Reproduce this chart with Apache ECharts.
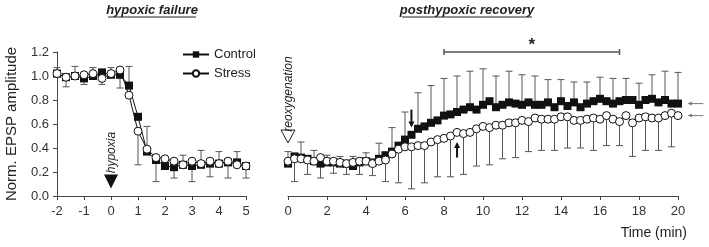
<!DOCTYPE html>
<html lang="en">
<head>
<meta charset="UTF-8">
<title>EPSP amplitude</title>
<script src="https://cdn.jsdelivr.net/npm/echarts@6/dist/echarts.min.js"></script>
<style>html,body{margin:0;padding:0;background:#fff}</style>
</head>
<body>
<div id="main" style="width:709px;height:247px"></div>
<script>
// one sample every 20 s
// hypoxic failure, -2 .. 5 min
var failStart = -2;
var failControl = [1.02, 0.99, 1.00, 0.98, 1.00, 1.03, 1.01, 1.01, 0.92, 0.66, 0.37, 0.30, 0.25, 0.24, 0.26, 0.25, 0.26, 0.27, 0.27, 0.28, 0.28, 0.25];
var failStress  = [1.02, 0.99, 1.00, 1.01, 1.02, 0.98, 1.02, 1.05, 0.84, 0.54, 0.39, 0.32, 0.31, 0.29, 0.26, 0.29, 0.27, 0.29, 0.27, 0.29, 0.26, 0.25];
// error bar ends: control (up) on even samples, stress (down) on odd samples
var failControlTop   = [1.07, 1.08, 1.07, 1.07, 1.08, 0.58, null, 0.34, 0.38, 0.37, 0.37];
var failStressBottom = [0.91, 0.93, 0.93, 0.90, 0.26, 0.12, 0.15, 0.12, 0.16, 0.15, 0.15];

// posthypoxic recovery, 0 .. 20 min
var recStart = 0;
var recControl = [0.27, 0.33, 0.32, 0.31, 0.29, 0.27, 0.28, 0.28, 0.27, 0.27, 0.25, 0.28, 0.29, 0.28, 0.31, 0.34,
  0.37, 0.42, 0.47, 0.51, 0.56, 0.58, 0.61, 0.63, 0.67, 0.68, 0.70, 0.72, 0.74, 0.72, 0.76,
  0.79, 0.74, 0.76, 0.78, 0.77, 0.76, 0.78, 0.76, 0.76, 0.78, 0.74, 0.79, 0.75, 0.78, 0.74,
  0.77, 0.79, 0.81, 0.79, 0.77, 0.79, 0.80, 0.80, 0.76, 0.80, 0.81, 0.78, 0.80, 0.77, 0.77];
var recStress = [0.29, 0.31, 0.31, 0.30, 0.29, 0.32, 0.29, 0.29, 0.28, 0.27, 0.28, 0.29, 0.29, 0.27, 0.29, 0.30,
  0.35, 0.39, 0.41, 0.41, 0.42, 0.42, 0.45, 0.47, 0.48, 0.50, 0.53, 0.52, 0.53, 0.56, 0.58,
  0.57, 0.59, 0.59, 0.61, 0.61, 0.63, 0.62, 0.65, 0.64, 0.64, 0.64, 0.66, 0.66, 0.63, 0.63,
  0.64, 0.65, 0.64, 0.67, 0.64, 0.62, 0.67, 0.61, 0.65, 0.66, 0.65, 0.65, 0.67, 0.69, 0.67];
var recControlTop = [0.37, 0.45, 0.38, 0.34, 0.33, 0.33, 0.36, 0.44, 0.57, 0.70, 0.86, 0.92, 0.98, 1.00, 1.04, 1.06,
  1.00, 1.04, 1.01, 1.00, 0.97, 0.97, 0.95, 0.95, 0.99, 0.98, 0.98, 0.94, 1.01, 1.04, 1.03];
var recStressBottom = [0.12, 0.18, 0.15, 0.19, 0.18, 0.18, 0.17, 0.12, 0.11, 0.06, 0.11, 0.16, 0.16, 0.18, 0.25,
  0.26, 0.31, 0.32, 0.37, 0.38, 0.38, 0.40, 0.40, 0.38, 0.42, 0.42, 0.33, 0.38, 0.38, 0.41];

var failTicks = [-2, -1, 0, 1, 2, 3, 4, 5];
var recTicks = [0, 2, 4, 6, 8, 10, 12, 14, 16, 18, 20];
var sigRange = [8, 17];

var chart = echarts.init(document.getElementById('main'));

function times(start, n) {
  var t = [];
  for (var i = 0; i < n; i++) t.push(start + i / 3);
  return t;
}
function pairs(t, v) {
  return v.map(function (y, i) { return [t[i], y]; });
}
function errData(t, v, ends, offset) {
  var out = [];
  ends.forEach(function (e, k) {
    var i = 2 * k + offset;
    if (e != null && i < v.length) out.push([t[i], v[i], e]);
  });
  return out;
}

function errSeries(gi, data) {
  return {
    type: 'custom', xAxisIndex: gi, yAxisIndex: gi, z: 1, silent: true,
    encode: { x: 0, y: [1, 2] },
    data: data,
    renderItem: function (params, api) {
      var a = api.coord([api.value(0), api.value(1)]);
      var b = api.coord([api.value(0), api.value(2)]);
      var st = { stroke: '#555', lineWidth: 1 };
      return {
        type: 'group', children: [
          { type: 'line', shape: { x1: a[0], y1: a[1], x2: b[0], y2: b[1] }, style: st },
          { type: 'line', shape: { x1: b[0] - 3.5, y1: b[1], x2: b[0] + 3.5, y2: b[1] }, style: st }
        ]
      };
    }
  };
}
function ctrlSeries(gi, data) {
  return {
    name: 'Control', type: 'line', xAxisIndex: gi, yAxisIndex: gi, data: data, z: 3,
    symbol: 'rect', symbolSize: 8, animation: false,
    lineStyle: { color: '#111', width: 1 }, itemStyle: { color: '#111' }
  };
}
function stressSeries(gi, data) {
  return {
    name: 'Stress', type: 'line', xAxisIndex: gi, yAxisIndex: gi, data: data, z: 4,
    symbol: 'circle', symbolSize: 8, animation: false,
    lineStyle: { color: '#111', width: 1 },
    itemStyle: { color: '#fff', borderColor: '#111', borderWidth: 1 }
  };
}

var tf = times(failStart, failControl.length);
var tr = times(recStart, recControl.length);
var font = 'Liberation Sans, Arial, sans-serif';

function xAxis(gi, ticks) {
  return {
    type: 'value', gridIndex: gi, min: ticks[0], max: ticks[ticks.length - 1],
    interval: ticks[1] - ticks[0],
    axisLine: { onZero: false, lineStyle: { color: '#444' } },
    axisTick: { length: 4, lineStyle: { color: '#444' } },
    axisLabel: { color: '#333', fontSize: 13, fontFamily: font, margin: 9 },
    splitLine: { show: false }
  };
}

chart.setOption({
  animation: false,
  textStyle: { fontFamily: font },
  grid: [
    { left: 57, top: 52, width: 189, height: 144 },
    { left: 288, top: 52, width: 390, height: 144 }
  ],
  legend: {
    data: ['Control', 'Stress'], orient: 'vertical', left: 177, top: 43,
    itemWidth: 26, itemHeight: 8, itemGap: 6,
    textStyle: { fontSize: 13, color: '#222', fontFamily: font }
  },
  xAxis: [xAxis(0, failTicks), xAxis(1, recTicks)],
  yAxis: [
    {
      type: 'value', gridIndex: 0, min: 0, max: 1.2, interval: 0.2,
      name: 'Norm. EPSP amplitude', nameLocation: 'middle', nameGap: 38,
      nameTextStyle: { fontSize: 15, color: '#222', fontFamily: font },
      axisLine: { show: true, onZero: false, lineStyle: { color: '#444' } },
      axisTick: { show: true, length: 4, lineStyle: { color: '#444' } },
      axisLabel: { color: '#333', fontSize: 13, fontFamily: font, margin: 8,
        formatter: function (v) { return v.toFixed(1); } },
      splitLine: { show: false }
    },
    { type: 'value', gridIndex: 1, min: 0, max: 1.2, show: false }
  ],
  series: [
    errSeries(0, errData(tf, failControl, failControlTop, 0)),
    errSeries(0, errData(tf, failStress, failStressBottom, 1)),
    ctrlSeries(0, pairs(tf, failControl)),
    stressSeries(0, pairs(tf, failStress)),
    errSeries(1, errData(tr, recControl, recControlTop, 0)),
    errSeries(1, errData(tr, recStress, recStressBottom, 1)),
    ctrlSeries(1, pairs(tr, recControl)),
    stressSeries(1, pairs(tr, recStress))
  ]
});

// annotations
function px(gi, x, y) { return chart.convertToPixel({ gridIndex: gi }, [x, y]); }
function arrow(p0, p1, color, w, head) {
  var dy = p1[1] > p0[1] ? 1 : (p1[1] < p0[1] ? -1 : 0);
  var dx = dy === 0 ? (p1[0] > p0[0] ? 1 : -1) : 0;
  var pts, end;
  if (dy !== 0) {
    pts = [[p1[0] - head / 2, p1[1] - dy * head], [p1[0] + head / 2, p1[1] - dy * head], [p1[0], p1[1]]];
    end = [p1[0], p1[1] - dy * head * 0.8];
  } else {
    pts = [[p1[0] - dx * head, p1[1] - head / 2], [p1[0] - dx * head, p1[1] + head / 2], [p1[0], p1[1]]];
    end = [p1[0] - dx * head * 0.8, p1[1]];
  }
  return [
    { type: 'line', shape: { x1: p0[0], y1: p0[1], x2: end[0], y2: end[1] }, style: { stroke: color, lineWidth: w } },
    { type: 'polygon', shape: { points: pts }, style: { fill: color } }
  ];
}
function label(text, x, y, f, rot) {
  return { type: 'text', x: x, y: y, rotation: rot || 0,
    style: { text: text, font: f, fill: '#222', textAlign: 'center', textVerticalAlign: 'middle' } };
}

var g = [];
g.push(label('hypoxic failure', 152, 10, 'italic bold 13px ' + font));
g.push({ type: 'line', shape: { x1: 108, y1: 17, x2: 196, y2: 17 }, style: { stroke: '#222', lineWidth: 1 } });
g.push(label('posthypoxic recovery', 467, 10, 'italic bold 13px ' + font));
g.push({ type: 'line', shape: { x1: 402, y1: 17, x2: 532, y2: 17 }, style: { stroke: '#222', lineWidth: 1 } });

// hypoxia onset
var h = px(0, 0, 0.12);
g.push({ type: 'polygon', shape: { points: [[h[0] - 7, h[1] - 7], [h[0] + 7, h[1] - 7], [h[0], h[1] + 7]] },
  style: { fill: '#111' } });
g.push(label('hypoxia', h[0] + 1, h[1] - 29, 'italic 12px ' + font, Math.PI / 2));

// reoxygenation
var r = px(1, 0, 0.5);
g.push({ type: 'polygon', shape: { points: [[r[0] - 7, r[1] - 6], [r[0] + 7, r[1] - 6], [r[0], r[1] + 7]] },
  style: { fill: '#fff', stroke: '#222', lineWidth: 1 } });
g.push(label('reoxygenation', r[0] + 1, r[1] - 42, 'italic 12px ' + font, Math.PI / 2));

// half-recovery arrows
g = g.concat(arrow(px(1, 6.33, 0.72), px(1, 6.33, 0.57), '#111', 2, 6));
g = g.concat(arrow(px(1, 8.67, 0.32), px(1, 8.67, 0.45), '#111', 2, 6));

// significance bracket
var s0 = px(1, sigRange[0], 1.2), s1 = px(1, sigRange[1], 1.2);
var bs = { stroke: '#555', lineWidth: 1.5 };
g.push({ type: 'line', shape: { x1: s0[0], y1: s0[1], x2: s1[0], y2: s1[1] }, style: bs });
g.push({ type: 'line', shape: { x1: s0[0], y1: s0[1] - 3, x2: s0[0], y2: s0[1] + 3 }, style: bs });
g.push({ type: 'line', shape: { x1: s1[0], y1: s1[1] - 3, x2: s1[0], y2: s1[1] + 3 }, style: bs });
g.push(label('*', (s0[0] + s1[0]) / 2, s0[1] - 7, 'bold 17px ' + font));

// end levels
g = g.concat(arrow(px(1, 21.3, 0.77), px(1, 20.5, 0.77), '#777', 1, 4));
g = g.concat(arrow(px(1, 21.3, 0.67), px(1, 20.5, 0.67), '#777', 1, 4));

g.push({ type: 'text', x: 687, y: 233, style: { text: 'Time (min)', font: '14px ' + font, fill: '#222',
  textAlign: 'right', textVerticalAlign: 'middle' } });

chart.setOption({ graphic: g });
</script>
</body>
</html>
